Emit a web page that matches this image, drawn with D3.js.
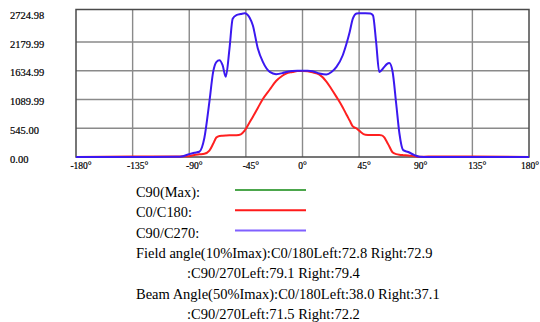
<!DOCTYPE html>
<html>
<head>
<meta charset="utf-8">
<script src="https://cdn.jsdelivr.net/npm/d3@7"></script>
<style>
  body { margin: 0; background: #fff; }
  svg { display: block; }
</style>
</head>
<body>
<svg class="chart" width="540" height="322"></svg>
<script>
// angles (deg) and intensities
var angles = [-180, -135, -100, -95, -90, -86, -82, -78, -74, -71, -68.5, -66, -63.5, -61, -58, -55.5, -52.5, -49, -46, -42, -39.5, -35.5, -31.5, -26, -21, -16, -13, -8, -4, 0, 4, 8, 13.5, 19, 23, 27, 32, 35, 37.5, 40, 43, 45, 50, 54, 56, 58.5, 61, 63, 65, 67, 69, 71.5, 74.5, 77, 80, 84, 89, 93, 100, 135, 180];
var c0c180 = [0, 8, 8, 12, 15, 38, 50, 60, 120, 250, 370, 400, 405, 408, 410, 410, 412, 430, 500, 660, 760, 930, 1100, 1280, 1440, 1540, 1583, 1610, 1628, 1632, 1625, 1605, 1560, 1430, 1290, 1140, 940, 800, 690, 580, 540, 500, 420, 416, 416, 416, 416, 410, 370, 290, 200, 90, 55, 42, 35, 30, 15, 5, 8, 8, 0];
var c90c270 = [0, 0, 3, 15, 55, 80, 100, 360, 1046, 1613, 1800, 1834, 1740, 1520, 2060, 2620, 2690, 2710, 2725, 2640, 2496, 2056, 1802, 1613, 1570, 1590, 1613, 1630, 1635, 1636, 1635, 1625, 1583, 1564, 1610, 1708, 1929, 2150, 2370, 2623, 2720, 2725, 2725, 2720, 2685, 2180, 1613, 1650, 1708, 1760, 1780, 1630, 1000, 450, 130, 95, 35, 5, 0, 0, 0];

var xTicks = [-180, -135, -90, -45, 0, 45, 90, 135, 180];
var xTickLabels = ["-180°", "-135°", "-90°", "-45°", "0°", "45°", "90°", "135°", "180°"];
var yTicks = [0, 545, 1089.99, 1634.99, 2179.99, 2724.98];
var yMax = 2796;

var legendNames = ["C90(Max):", "C0/C180:", "C90/C270:"];
var legendColors = ["#4ca64c", "#ff1a1a", "#8060ff"];
var infoLines = [
  "Field angle(10%Imax):C0/180Left:72.8 Right:72.9",
  ":C90/270Left:79.1 Right:79.4",
  "Beam Angle(50%Imax):C0/180Left:38.0 Right:37.1",
  ":C90/270Left:71.5 Right:72.2"
];

var PLOT = { left: 76, right: 529, top: 9.5, bottom: 157 };
var FONT = "'Liberation Serif', 'Times New Roman', serif";

var svg = d3.select(".chart");

var x = d3.scaleLinear().domain([-180, 180]).range([PLOT.left, PLOT.right]);
var y = d3.scaleLinear().domain([0, yMax]).range([PLOT.bottom, PLOT.top]);

// grid
var grid = svg.append("g").attr("class", "grid")
    .attr("stroke", "#8a8a8a").attr("stroke-width", 1.4);
grid.selectAll(".vx").data(xTicks.slice(1, -1)).enter().append("line")
    .attr("x1", function(d) { return x(d); }).attr("x2", function(d) { return x(d); })
    .attr("y1", PLOT.top).attr("y2", PLOT.bottom);
grid.selectAll(".hy").data(yTicks.slice(1, -1)).enter().append("line")
    .attr("x1", PLOT.left).attr("x2", PLOT.right)
    .attr("y1", function(d) { return y(d); }).attr("y2", function(d) { return y(d); });

// frame
svg.append("rect")
    .attr("x", PLOT.left).attr("y", PLOT.top)
    .attr("width", PLOT.right - PLOT.left).attr("height", PLOT.bottom - PLOT.top)
    .attr("fill", "none").attr("stroke", "#4a4a4a").attr("stroke-width", 1.5);

// y labels
svg.append("g").selectAll("text").data(yTicks).enter().append("text")
    .attr("x", 10)
    .attr("y", function(d) { return y(d) + 2; })
    .attr("dy", "0.35em")
    .style("font", "10.5px " + FONT)
    .attr("fill", "#000")
    .attr("stroke", "#000").attr("stroke-width", 0.2)
    .text(function(d) { return d.toFixed(2); });

// x labels
svg.append("g").selectAll("text").data(xTicks).enter().append("text")
    .attr("x", function(d) { return d === 180 ? 539 : x(d) + (d === 0 ? 0 : 5); })
    .attr("y", 168.5)
    .attr("text-anchor", function(d) { return d === 180 ? "end" : "middle"; })
    .style("font", "9.5px " + FONT)
    .attr("fill", "#000")
    .attr("stroke", "#000").attr("stroke-width", 0.2)
    .text(function(d, i) { return xTickLabels[i]; });

// curves
var rows = angles.map(function(a, i) { return { a: a, red: c0c180[i], blue: c90c270[i] }; });
var line = function(key) {
    return d3.line()
        .curve(d3.curveMonotoneX)
        .x(function(d) { return x(d.a); })
        .y(function(d) { return y(d[key]); });
};
svg.append("path").datum(rows)
    .attr("d", line("red"))
    .attr("fill", "none").attr("stroke", "#ff2020").attr("stroke-width", 2);
svg.append("path").datum(rows)
    .attr("d", line("blue"))
    .attr("fill", "none").attr("stroke", "#3b18f0").attr("stroke-width", 2);

// legend
var lg = svg.append("g");
legendNames.forEach(function(name, i) {
    var yy = 192 + i * 20.3;
    lg.append("text").attr("x", 136).attr("y", yy).attr("dy", "0.35em")
        .style("font", "14.4px " + FONT).attr("fill", "#000").text(name);
    lg.append("line").attr("x1", 235).attr("x2", 306)
        .attr("y1", yy - 2).attr("y2", yy - 2)
        .attr("stroke", legendColors[i]).attr("stroke-width", 2);
});
infoLines.forEach(function(t, i) {
    lg.append("text")
        .attr("x", i % 2 === 0 ? 136 : 187)
        .attr("y", 252.5 + i * 20.5).attr("dy", "0.35em")
        .style("font", "14.5px " + FONT).attr("fill", "#000").text(t);
});
</script>
</body>
</html>
